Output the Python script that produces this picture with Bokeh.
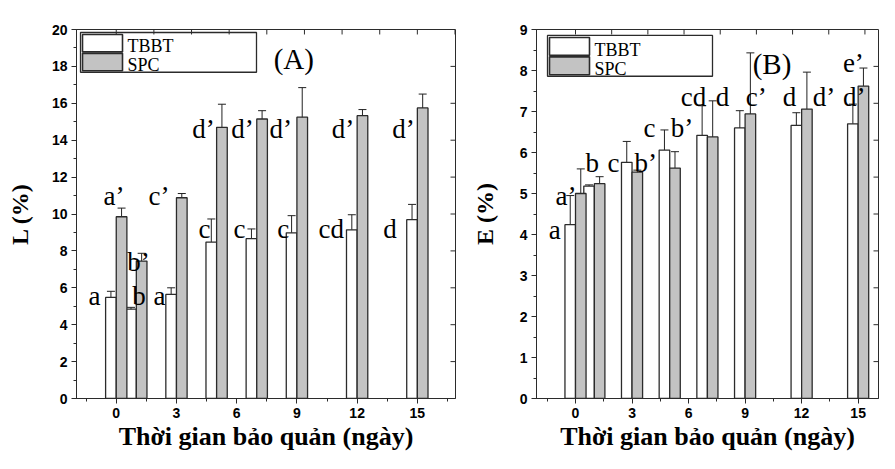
import numpy as np
from bokeh.plotting import figure
from bokeh.models import Range1d, FixedTicker, Whisker, ColumnDataSource, TeeHead
from bokeh.layouts import row
from bokeh.embed import file_html
from bokeh.resources import INLINE
from bokeh.core.properties import value

# ---------------- data ----------------
days = [0, 1, 3, 5, 7, 9, 12, 15]          # bar-group positions on the day axis
xticks = [0, 3, 6, 9, 12, 15]
series = ["TBBT", "SPC"]

L_tbbt = [5.48, 4.84, 5.64, 8.48, 8.66, 8.98, 9.14, 9.69]
L_tbbt_err = [0.33, 0.10, 0.36, 1.25, 0.53, 0.93, 0.82, 0.83]
L_spc = [9.85, 7.45, 10.88, 14.70, 15.15, 15.25, 15.33, 15.75]
L_spc_err = [0.47, 0.42, 0.23, 1.25, 0.45, 1.60, 0.33, 0.75]

E_tbbt = [4.24, 5.18, 5.76, 6.06, 6.42, 6.60, 6.66, 6.70]
E_tbbt_err = [0.71, 0.03, 0.51, 0.49, 0.72, 0.42, 0.31, 0.48]
E_spc = [5.00, 5.24, 5.52, 5.62, 6.38, 6.94, 7.06, 7.62]
E_spc_err = [0.60, 0.17, 0.05, 0.40, 0.88, 1.49, 0.90, 0.44]

L_letters = ["a", "a’", "b’", "b", "a", "c’", "c", "d’", "c", "d’", "c", "d’", "cd", "d’", "d", "d’"]
L_let_x = [-1.38, -0.63, 0.55, 0.80, 1.86, 1.61, 4.10, 3.79, 5.84, 5.73, 8.02, 7.64, 10.08, 10.73, 13.30, 13.75]
L_let_y = [5.10, 10.54, 6.97, 5.10, 5.10, 10.54, 8.75, 14.17, 8.75, 14.17, 8.75, 14.17, 8.75, 14.17, 8.75, 14.17]

E_letters = ["a", "a’", "b", "c", "b’", "c", "b’", "cd", "d", "c’", "d", "d’", "d’", "e’"]
E_let_x = [-1.42, -1.06, 0.53, 1.70, 3.13, 3.61, 5.05, 5.58, 7.44, 9.03, 11.00, 12.59, 14.19, 14.19]
E_let_y = [3.92, 4.74, 5.56, 5.56, 5.56, 6.40, 6.40, 7.17, 7.17, 7.17, 7.17, 7.17, 7.17, 8.00]

XTITLE = "Thời gian bảo quản (ngày)"
SERIF = "Liberation Serif"
SANS = "Liberation Sans"
EDGE = "#2b2b2b"
GRAY = "#c3c3c3"


def panel(tbbt, tbbt_err, spc, spc_err, letters, lx, ly, tag, tag_xy,
          ylabel, ymax, ymajor, yminor, xr, size, borders, bar_w,
          legend_px, top_step, right_step, ylabel_standoff, title_standoff):
    W, H = size
    bl, br, bt, bb = borders
    fw, fh = W - bl - br, H - bt - bb
    p = figure(width=W, height=H, output_backend="svg", toolbar_location=None,
               x_range=Range1d(*xr), y_range=Range1d(0, ymax))
    p.min_border_left, p.min_border_right, p.min_border_top, p.min_border_bottom = borders
    p.xgrid.visible = False
    p.ygrid.visible = False
    p.outline_line_color = EDGE
    p.outline_line_width = 1
    p.background_fill_color = "white"
    p.border_fill_color = "white"

    # pixel (relative to the frame's top-left) -> data helpers for decorations
    sx = (xr[1] - xr[0]) / fw
    sy = ymax / fh
    px2x = lambda px: xr[0] + px * sx
    px2y = lambda py: ymax - py * sy
    lift = 8 * sy          # raise the large serif annotations a few pixels

    d = np.array(days, dtype=float)
    off = bar_w / 2
    src_t = ColumnDataSource(dict(x=d - off, top=tbbt, up=np.array(tbbt) + np.array(tbbt_err),
                                  lo=np.array(tbbt) - np.array(tbbt_err)))
    src_s = ColumnDataSource(dict(x=d + off, top=spc, up=np.array(spc) + np.array(spc_err),
                                  lo=np.array(spc) - np.array(spc_err)))
    p.vbar(x="x", top="top", width=bar_w, source=src_t, fill_color="white",
           line_color=EDGE, line_width=1.3)
    p.vbar(x="x", top="top", width=bar_w, source=src_s, fill_color=GRAY,
           line_color=EDGE, line_width=1.3)
    for s in (src_t, src_s):
        w = Whisker(source=s, base="x", upper="up", lower="lo", line_color="#222222", line_width=1,
                    upper_head=TeeHead(size=8, line_color="#222222", line_width=1),
                    lower_head=TeeHead(size=8, line_color="#222222", line_width=1))
        p.add_layout(w)

    # significance letters
    lsrc = ColumnDataSource(dict(x=lx, y=np.array(ly) + lift, t=letters))
    p.text(x="x", y="y", text="t", source=lsrc, text_font=value(SERIF), text_font_size="27px",
           text_baseline="alphabetic", text_align="left", text_color="black")
    p.text(x=[tag_xy[0]], y=[tag_xy[1] + lift], text=[tag], text_font=value(SERIF),
           text_font_size="29px", text_baseline="alphabetic", text_align="left", text_color="black")

    # legend box (drawn by hand so the swatches fill their rows)
    L0, T0, W0, H0 = legend_px
    p.quad(left=px2x(L0), right=px2x(L0 + W0), top=px2y(T0), bottom=px2y(T0 + H0),
           fill_color="white", line_color=EDGE, line_width=1.3)
    rowh = (H0 - 2) / 2
    for i, (name, col) in enumerate(zip(series, ["white", GRAY])):
        t = T0 + 1 + i * rowh
        p.quad(left=px2x(L0 + 2), right=px2x(L0 + 42), top=px2y(t + 1), bottom=px2y(t + rowh - 0.5),
               fill_color=col, line_color=EDGE, line_width=1.6)
        p.text(x=[px2x(L0 + 47)], y=[px2y(t + rowh - 6)], text=[name], text_font=value(SERIF),
               text_font_size="18px", text_baseline="alphabetic", text_align="left",
               text_color="black")

    # inward ticks on the top and right spines
    tt = np.arange(0, 17, top_step)
    tt = tt[tt < xr[1]]
    p.segment(x0=tt, x1=tt, y0=[ymax] * len(tt), y1=[ymax - 5 * sy] * len(tt),
              line_color=EDGE, line_width=1)
    rt = np.arange(right_step, ymax - 1e-6, right_step)
    p.segment(x0=[xr[1]] * len(rt), x1=[xr[1] - 5 * sx] * len(rt), y0=rt, y1=rt,
              line_color=EDGE, line_width=1)

    xa = p.xaxis[0]
    xa.ticker = FixedTicker(ticks=xticks, minor_ticks=list(np.arange(-1.5, 17, 1.5)))
    ya = p.yaxis[0]
    ya.ticker = FixedTicker(ticks=ymajor, minor_ticks=yminor)
    for ax in (xa, ya):
        ax.axis_line_color = EDGE
        ax.major_tick_line_color = EDGE
        ax.minor_tick_line_color = EDGE
        ax.major_tick_out = 5
        ax.major_tick_in = 0
        ax.minor_tick_out = 3
        ax.minor_tick_in = 0
        ax.major_label_text_font = SANS
        ax.major_label_text_font_style = "bold"
        ax.major_label_text_font_size = "14px"
        ax.major_label_text_color = "black"
        ax.axis_label_text_font = SERIF
        ax.axis_label_text_font_style = "bold"
        ax.axis_label_text_color = "black"
    xa.major_label_standoff = 4
    xa.major_label_text_line_height = 0.8
    xa.axis_label = XTITLE
    xa.axis_label_text_font_size = "26px"
    xa.axis_label_text_line_height = 0.6
    xa.axis_label_standoff = title_standoff
    ya.major_label_standoff = 4
    ya.axis_label = ylabel
    ya.axis_label_text_font_size = "24px"
    ya.axis_label_standoff = ylabel_standoff
    return p


# the two frames share top/bottom in a row: frame rows 29..400
# panel A: 461x453 figure, frame 379 wide starting at x=76
pA = panel(L_tbbt, L_tbbt_err, L_spc, L_spc_err, L_letters, L_let_x, L_let_y, "(A)", (7.84, 17.95),
           "L (%)", 20, list(range(0, 21, 2)), list(range(0, 21, 1)), (-1.98, 16.9),
           (461, 453), (76, 6, 29, 53), 0.53, (4, 3, 176, 40), 1.875, 2.0, 16, 1)
# panel B: 418x453 figure, frame 342 wide starting at x=536
pB = panel(E_tbbt, E_tbbt_err, E_spc, E_spc_err, E_letters, E_let_x, E_let_y, "(B)", (9.4, 7.96),
           "E (%)", 9, list(range(0, 10, 1)), list(np.arange(0, 9.01, 0.5)), (-2.07, 16.08),
           (418, 453), (75, 1, 29, 53), 0.56, (11, 6, 165, 41), 1.92, 0.9, 19, 1)

layout = row(pA, pB)
open("out.html", "w").write(file_html(layout, INLINE))
